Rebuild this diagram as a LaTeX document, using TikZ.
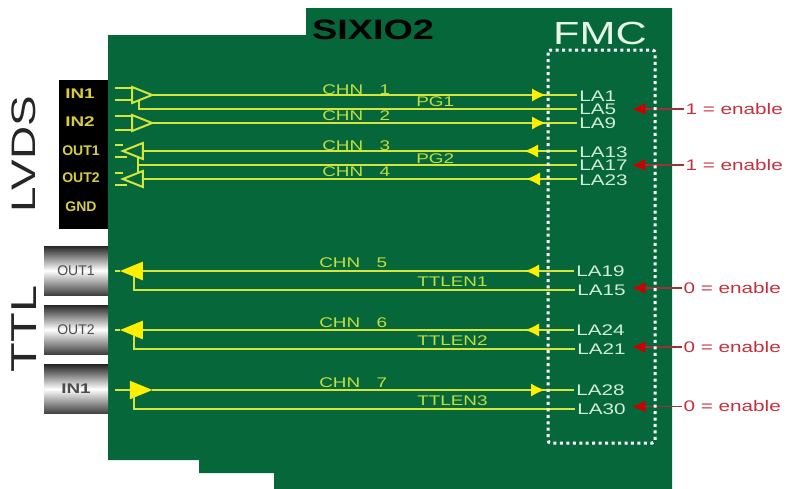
\documentclass[tikz,border=0pt]{standalone}
\usepackage{fontspec}
\setmainfont[FakeStretch=1.35]{Liberation Sans}
\newfontfamily\plainfont{Liberation Sans}
\usetikzlibrary{arrows.meta,shapes.geometric}
\definecolor{boardgreen}{HTML}{05673A}
\definecolor{sigyellow}{HTML}{D4E63C}
\definecolor{tipyellow}{HTML}{FFEE00}
\definecolor{chngreen}{HTML}{C4DE3E}
\definecolor{lagreen}{HTML}{D4EED8}
\definecolor{pinyellow}{HTML}{D8CC40}
\definecolor{enred}{HTML}{C4303C}
\definecolor{enline}{HTML}{A03038}
\tikzset{
	sigline/.style={draw=sigyellow, line width=1.5pt},
	sigtip/.style={sigline, -{Latex[length=10.5pt,width=10pt,color=tipyellow,fill=tipyellow]}},
	enline/.style={draw=enline, line width=1.2pt, -{Latex[length=10pt,width=9pt,color=red!80!black,fill=red!80!black]}},
	buffer/.style={isosceles triangle, isosceles triangle stretches, draw=sigyellow, line width=1.5pt, minimum height=15pt, minimum width=12pt, inner sep=0pt, outer sep=0pt},
	ttlbuffer/.style={isosceles triangle, isosceles triangle stretches, fill=tipyellow, minimum height=17pt, minimum width=14pt, inner sep=0pt, outer sep=0pt},
	lalabel/.style={anchor=west, inner sep=1.5pt, text=lagreen, font=\fontsize{11.5}{12}\selectfont},
	chnlabel/.style={anchor=west, inner sep=0pt, text=chngreen, font=\fontsize{10.5}{12}\selectfont},
	enlabel/.style={anchor=west, inner sep=1pt, text=enred, font=\fontsize{11.5}{12}\selectfont},
	lvdspin/.style={text=pinyellow, inner sep=0pt, font=\fontsize{10.5}{12}\selectfont\bfseries},
	lvdsnarrow/.style={text=pinyellow, inner sep=0pt, font=\plainfont\fontsize{10.5}{12}\selectfont\bfseries},
	ttlpin/.style={top color=black!85, bottom color=black!75, middle color=white, text=black!70, minimum width=48pt, minimum height=36.75pt, inner sep=0pt, font=\plainfont\fontsize{10.5}{12}\selectfont},
	sidelabel/.style={text=black!85, rotate=90, inner sep=0pt, font=\fontsize{25.5}{28}\selectfont}
}
\begin{document}
\begin{tikzpicture}[x=0.75pt,y=-0.75pt]
	\useasboundingbox (0,0) rectangle (786,489);
	\fill[boardgreen] (108,35) -- (306,35) -- (306,8) -- (672,8) -- (672,489) -- (274,489) -- (274,473) -- (199,473) -- (199,460) -- (108,460) -- cycle;
	\fill[black] (59,80) rectangle (108,229);
	\node (sixio) at (373,30) [text=black, font=\fontsize{21}{24}\selectfont\bfseries] {SIXIO2};
	\node (fmc) at (600,33) [text=lagreen!60!white, font=\fontsize{24}{26}\selectfont] {FMC};
	\node (lvds) at (24,154) [sidelabel] {LVDS};
	\node (ttl) at (24,329) [sidelabel, font=\fontsize{27}{28}\selectfont] {TTL};

	\node (pinin1) at (80,94) [lvdspin] {IN1};
	\node (pinin2) at (80,122) [lvdspin] {IN2};
	\node (pinout1) at (81,151) [lvdsnarrow] {OUT1};
	\node (pinout2) at (81,178) [lvdsnarrow] {OUT2};
	\node (pingnd) at (81,207) [lvdsnarrow] {GND};
	\node (ttlout1) at (76,270.5) [ttlpin] {OUT1};
	\node (ttlout2) at (76,329.5) [ttlpin] {OUT2};
	\node (ttlin1) at (76,389) [ttlpin, font=\fontsize{10.5}{12}\selectfont\bfseries] {IN1};

	\node (buf1) at (137.5,95) [buffer] {};
	\node (buf2) at (137.5,123) [buffer] {};
	\node (buf3) at (137.5,151) [buffer, shape border rotate=180] {};
	\node (buf4) at (137.5,179) [buffer, shape border rotate=180] {};
	\node (buf5) at (136.5,271) [ttlbuffer, shape border rotate=180] {};
	\node (buf6) at (136.5,330) [ttlbuffer, shape border rotate=180] {};
	\node (buf7) at (136,390) [ttlbuffer] {};

	\node (la1) at (577,96) [lalabel] {LA1};
	\node (la5) at (577,109) [lalabel] {LA5};
	\node (la9) at (577,123) [lalabel] {LA9};
	\node (la13) at (577,152) [lalabel] {LA13};
	\node (la17) at (577,165) [lalabel] {LA17};
	\node (la23) at (577,180) [lalabel] {LA23};
	\node (la19) at (574,271) [lalabel] {LA19};
	\node (la15) at (575,290) [lalabel] {LA15};
	\node (la24) at (574,330) [lalabel] {LA24};
	\node (la21) at (575,349) [lalabel] {LA21};
	\node (la28) at (574,390) [lalabel] {LA28};
	\node (la30) at (575,409) [lalabel] {LA30};

	\node at (322,90) [chnlabel] (chn1) {CHN \hspace{0.8em}1};
	\node at (322,116) [chnlabel] (chn2) {CHN \hspace{0.8em}2};
	\node at (322,146) [chnlabel] (chn3) {CHN \hspace{0.8em}3};
	\node at (322,172) [chnlabel] (chn4) {CHN \hspace{0.8em}4};
	\node at (319,263) [chnlabel] (chn5) {CHN \hspace{0.8em}5};
	\node at (319,323) [chnlabel] (chn6) {CHN \hspace{0.8em}6};
	\node at (319,383) [chnlabel] (chn7) {CHN \hspace{0.8em}7};
	\node at (416,102) [chnlabel] (pg1) {PG1};
	\node at (416,159) [chnlabel] (pg2) {PG2};
	\node at (417,282) [chnlabel] (ttlen1) {TTLEN1};
	\node at (417,341) [chnlabel] (ttlen2) {TTLEN2};
	\node at (417,401) [chnlabel] (ttlen3) {TTLEN3};

	\coordinate (tip1) at (546,95);
	\coordinate (tip2) at (546,123);
	\coordinate (tip3) at (524,151);
	\coordinate (tip4) at (526,179);
	\coordinate (tip5) at (525,271);
	\coordinate (tip6) at (525,330);
	\coordinate (tip7) at (545,390);
	\draw[sigline] (buf1.apex) -- (la1.west |- buf1.apex);
	\draw[sigtip] (buf1.apex) -- (tip1);
	\draw[sigline] (buf2.apex) -- (la9.west |- buf2.apex);
	\draw[sigtip] (buf2.apex) -- (tip2);
	\draw[sigline] (buf3.lower side) -- (la13.west |- buf3.lower side);
	\draw[sigtip] (la13.west |- buf3.lower side) -- (tip3);
	\draw[sigline] (buf4.lower side) -- (la23.west |- buf4.lower side);
	\draw[sigtip] (la23.west |- buf4.lower side) -- (tip4);
	\draw[sigline] (buf5.lower side) -- (la19.west);
	\draw[sigtip] (la19.west) -- (tip5);
	\draw[sigline] (buf6.lower side) -- (la24.west);
	\draw[sigtip] (la24.west) -- (tip6);
	\draw[sigline] (buf7.apex) -- (la28.west);
	\draw[sigtip] (buf7.apex) -- (tip7);

	\coordinate (in1a) at (115,88);
	\coordinate (in1b) at (115,100);
	\coordinate (in2a) at (115,116);
	\coordinate (in2b) at (115,130);
	\coordinate (out1a) at (115,144.5);
	\coordinate (out1b) at (115,156.5);
	\coordinate (out2a) at (115,172.5);
	\coordinate (out2b) at (115,184.5);
	\coordinate (ttl1) at (115,271);
	\coordinate (ttl2) at (115,330);
	\coordinate (ttl3) at (115,390);
	\draw[sigline] (in1a) -- (in1a -| buf1.lower side);
	\draw[sigline] (in1b) -- (in1b -| buf1.lower side);
	\draw[sigline] (in2a) -- (in2a -| buf2.lower side);
	\draw[sigline] (in2b) -- (in2b -| buf2.lower side);
	\draw[sigline] (out1a) -- (out1a -| buf3.apex);
	\draw[sigline] (out1b) -- ([xshift=3pt]out1b -| buf3.apex);
	\draw[sigline] (out2a) -- (out2a -| buf4.apex);
	\draw[sigline] (out2b) -- ([xshift=3pt]out2b -| buf4.apex);
	\draw[sigline] (ttl1) -- (buf5.apex);
	\draw[sigline] (ttl2) -- (buf6.apex);
	\draw[sigline] (ttl3) -- (buf7.lower side);

	\coordinate (pg1top) at (139,101);
	\coordinate (pg2top) at (138,158);
	\coordinate (pg2bot) at (138,172);
	\coordinate (en1top) at (134,276);
	\coordinate (en2top) at (134,335);
	\coordinate (en3top) at (134,395);
	\draw[sigline] (pg1top) |- (la5.west);
	\draw[sigline] (pg2top) -- (pg2bot);
	\draw[sigline] (pg2top |- la17.west) -- (la17.west);
	\draw[sigline] (en1top) |- (la15.west);
	\draw[sigline] (en2top) |- (la21.west);
	\draw[sigline] (en3top) |- (la30.west);

	\node (en1) at (684,109) [enlabel] {1 = enable};
	\node (en2) at (684,165) [enlabel] {1 = enable};
	\node (en3) at (682,288) [enlabel] {0 = enable};
	\node (en4) at (682,347) [enlabel] {0 = enable};
	\node (en5) at (682,406.5) [enlabel] {0 = enable};
	\coordinate (entip1) at (632,109);
	\coordinate (entip2) at (632,165);
	\coordinate (entip3) at (632,288);
	\coordinate (entip4) at (632,347);
	\coordinate (entip5) at (632,406.5);
	\draw[enline] (en1.west) -- (entip1);
	\draw[enline] (en2.west) -- (entip2);
	\draw[enline] (en3.west) -- (entip3);
	\draw[enline] (en4.west) -- (entip4);
	\draw[enline] (en5.west) -- (entip5);

	\draw[white, line width=2.25pt, dash pattern=on 2.25pt off 2.6pt, rounded corners=2pt] (548,50) rectangle (655,443);
\end{tikzpicture}
\end{document}
